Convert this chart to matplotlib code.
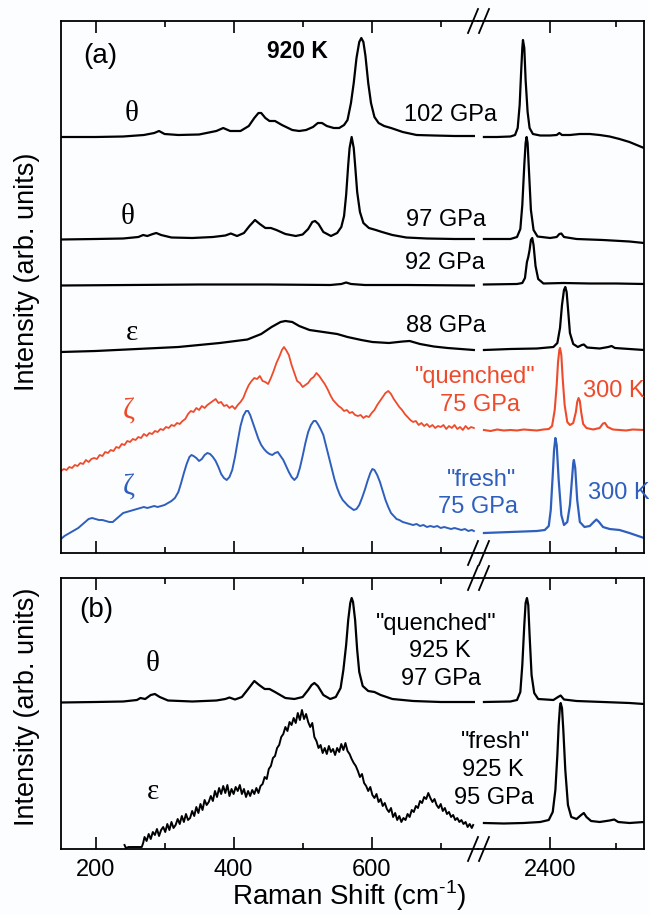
import matplotlib
matplotlib.use("Agg")
import matplotlib.pyplot as plt
from matplotlib.lines import Line2D

plt.rcParams['font.family'] = ['Liberation Sans', 'DejaVu Sans']
plt.rcParams['mathtext.fontset'] = 'custom'
plt.rcParams['mathtext.rm'] = 'Liberation Sans'

# ---------------- data (Raman shift in cm-1, intensity in arb. units, stacked) ----------------
# panel (a) -- theta, 102 GPa
th102_lo_x = [150, 200, 240, 270, 285, 292, 300, 320, 350, 375, 385, 395, 410, 422, 430, 436, 440, 446, 452, 460,
              470, 485, 495, 505, 515, 522, 528, 535, 545, 553, 560, 565, 570, 574, 578, 582, 585, 588, 591, 595,
              599, 604, 610, 618, 628, 645, 665, 690, 720, 748]
th102_lo_y = [416, 416, 416.5, 418, 420, 422, 419, 418, 418.5, 422, 425, 422, 422, 427, 435, 440, 440, 435, 432, 432,
              428, 423, 422, 423, 426, 430, 430, 427, 425, 425, 428, 433, 450, 470, 495, 511, 515, 511, 497, 470,
              450, 436, 430, 427, 425, 421, 418, 417.5, 417, 417]
th102_hi_x = [2300, 2320, 2340, 2347, 2351, 2354, 2356, 2358, 2359, 2361, 2363, 2366, 2369, 2374, 2385, 2400, 2410,
              2414, 2418, 2430, 2445, 2460, 2475, 2490, 2505, 2520, 2542]
th102_hi_y = [416, 416, 416.5, 418, 425, 448, 478, 505, 513, 505, 473, 441, 425, 419, 417.5, 417.5, 418,
              420, 418, 418, 419, 419, 418, 416.5, 414, 411, 405]

# panel (a) -- theta, 97 GPa
th97_lo_x = [150, 200, 240, 262, 269, 275, 283, 288, 295, 310, 340, 370, 388, 396, 405, 415, 423, 431, 438, 446,
             454, 462, 475, 490, 500, 508, 514, 518, 523, 530, 541, 550, 556, 560, 563, 566, 568, 571, 574, 576,
             579, 583, 588, 596, 606, 615, 630, 650, 680, 720, 748]
th97_lo_y = [313.5, 314, 314.5, 316, 318, 317, 319, 320, 318, 315.5, 315, 316, 317.5, 319.5, 317, 320, 327, 333, 329, 325,
             325, 323, 319, 317, 318.5, 324, 331, 332, 329, 321, 317, 320, 326, 337, 358, 388, 405, 416, 405, 388,
             361, 341, 330, 325, 323, 321, 318, 315.5, 314.5, 314, 314]
th97_hi_x = [2300, 2340, 2350, 2355, 2358, 2361, 2363, 2364.5, 2366, 2368, 2371, 2375, 2381, 2400, 2410, 2414, 2417,
             2421, 2440, 2480, 2520, 2542]
th97_hi_y = [314, 314, 316, 324, 348, 388, 410, 416, 410, 383, 343, 323, 316.5, 315, 316, 319, 319.5,
             316, 314, 313, 311.5, 310]

# panel (a) -- 92 GPa
p92_lo_x = [150, 250, 350, 450, 540, 556, 563, 570, 590, 650, 748]
p92_lo_y = [267.5, 268, 268.5, 268.5, 268, 269, 270.5, 269, 268, 268, 267.5]
p92_hi_x = [2300, 2350, 2358, 2362, 2365, 2367, 2369, 2371, 2373, 2375, 2378, 2382, 2390, 2420, 2460, 2500, 2542]
p92_hi_y = [268.5, 269, 270, 275, 291, 296, 303, 313, 315, 308, 287, 274, 269.5, 270, 269.5, 269.5, 269]

# panel (a) -- epsilon, 88 GPa
eps88_lo_x = [150, 200, 260, 320, 380, 420, 440, 455, 468, 475, 485, 495, 510, 530, 550, 565, 585, 601, 625, 645,
              655, 670, 690, 710, 748]
eps88_lo_y = [201, 202, 204, 206, 210, 213.5, 219, 226, 231, 232, 231, 227, 223, 221, 219, 216, 213, 211, 210, 211.5,
              212, 209, 206.5, 205, 203]
eps88_hi_x = [2300, 2340, 2380, 2405, 2411, 2415, 2418, 2421, 2423, 2425, 2427, 2430, 2435, 2442, 2448, 2451, 2456,
              2475, 2488, 2493, 2498, 2520, 2542]
eps88_hi_y = [203, 204, 204.5, 206, 210, 225, 248, 263, 266, 261, 245, 220, 209, 206, 208, 208.5, 205.5,
              204.5, 206, 207, 205, 204, 203]

# panel (a) -- zeta "quenched", 75 GPa, 300 K
zq_lo_x = [150, 154, 158, 162, 166, 170, 174, 178, 182, 186, 190, 194, 198, 202, 206, 210, 214, 218, 222, 226,
           230, 234, 238, 242, 246, 250, 254, 258, 262, 266, 270, 274, 278, 282, 286, 290, 294, 298, 302, 306,
           310, 314, 318, 322, 326, 330, 334, 338, 342, 346, 350, 354, 358, 362, 366, 370, 374, 378, 382, 386,
           390, 394, 398, 402, 406, 410, 414, 418, 422, 426, 430, 434, 438, 442, 446, 450, 454, 458, 462, 466,
           470, 473, 476, 480, 484, 488, 492, 496, 500, 504, 508, 512, 516, 520, 524, 528, 532, 536, 540, 544,
           548, 552, 556, 560, 564, 568, 572, 576, 580, 584, 588, 592, 596, 600, 604, 608, 612, 616, 620, 624,
           628, 632, 636, 640, 644, 648, 652, 656, 660, 664, 668, 672, 676, 680, 684, 688, 692, 696, 700, 704,
           708, 712, 716, 720, 724, 728, 732, 736, 740, 744, 748]
zq_lo_y = [82, 84, 83, 86, 85, 88, 87, 90, 89, 93, 91, 94, 95, 94, 98, 97, 101, 100, 103, 102,
           106, 105, 109, 108, 112, 111, 114, 113, 116, 115, 119, 117, 120, 119, 122, 121, 124, 123, 126, 125,
           128, 127, 130, 129, 132, 134, 139, 142, 141, 145, 143, 147, 145, 148, 150, 152, 154, 150, 151, 147,
           148, 145, 147, 144, 148, 151, 155, 162, 168, 172, 175, 174, 177, 172, 171, 169, 175, 182, 190, 196,
           203, 206, 203, 198, 188, 180, 172, 170, 166, 168, 170, 174, 176, 180, 177, 173, 169, 164, 158, 153,
           150, 147, 145, 142, 143, 140, 141, 138, 137, 138, 135, 137, 136, 140, 143, 148, 152, 156, 160, 162,
           159, 154, 150, 146, 143, 139, 136, 133, 131, 132, 128, 130, 127, 129, 126, 128, 125, 127, 126, 128,
           124, 127, 125, 128, 124, 126, 123, 127, 124, 126, 125]
zq_hi_x = [2300, 2310, 2320, 2330, 2340, 2350, 2360, 2370, 2380, 2390, 2398, 2403, 2407, 2410, 2412, 2414, 2415,
           2417, 2419, 2422, 2426, 2430, 2435, 2439, 2441, 2443, 2445, 2447, 2450, 2455, 2465, 2475, 2480, 2483,
           2487, 2495, 2505, 2515, 2525, 2542]
zq_hi_y = [123, 122, 123.5, 122.5, 123, 122.5, 123.5, 123, 122.5, 123.5, 124, 127, 143, 168, 191, 203, 205,
           198, 175, 148, 131, 128, 130, 141, 151, 155, 152, 141, 129, 125, 123.5, 125, 129.5, 130,
           126, 123.5, 123, 122.5, 123.5, 123]

# panel (a) -- zeta "fresh", 75 GPa, 300 K
zf_lo_x = [150, 155, 160, 165, 170, 175, 180, 185, 190, 195, 200, 205, 210, 215, 220, 225, 230, 235, 240, 245,
           250, 255, 260, 265, 270, 275, 280, 285, 290, 295, 300, 305, 310, 315, 320, 324, 328, 332, 336, 339,
           342, 346, 350, 354, 358, 362, 366, 370, 374, 378, 382, 386, 390, 394, 398, 402, 406, 410, 414, 418,
           421, 424, 428, 432, 436, 440, 444, 448, 452, 456, 460, 464, 468, 472, 476, 480, 484, 488, 492, 496,
           500, 504, 508, 512, 516, 519, 522, 526, 530, 534, 538, 542, 546, 550, 554, 558, 562, 566, 570, 574,
           578, 582, 586, 590, 594, 598, 601, 604, 608, 612, 616, 620, 624, 628, 632, 636, 640, 645, 650, 655,
           660, 665, 670, 675, 680, 685, 690, 695, 700, 705, 710, 715, 720, 725, 730, 735, 740, 745, 748]
zf_lo_y = [14, 17, 19, 21, 23, 25, 28, 31, 34, 35, 34, 33, 33, 32, 31, 31, 34, 37, 40, 41,
           42, 43, 44, 45, 46, 45, 46, 47, 46, 47, 48, 50, 52, 55, 61, 70, 80, 89, 96, 98,
           97, 95, 92, 94, 98, 100, 99, 96, 92, 86, 79, 75, 73, 76, 83, 96, 112, 127, 137, 142,
           142, 138, 130, 122, 114, 108, 104, 101, 99, 98, 100, 101, 97, 93, 87, 81, 76, 73, 76, 85,
           97, 110, 121, 128, 132, 132, 129, 124, 118, 107, 96, 85, 74, 65, 58, 53, 50, 47, 45, 43,
           44, 48, 55, 63, 72, 80, 84, 83, 78, 71, 62, 53, 46, 40, 37, 34, 33, 31, 30, 29,
           28, 29, 27, 28, 26, 27, 26, 27, 25, 26, 25, 24, 25, 24, 23, 24, 22, 23, 22]
zf_hi_x = [2300, 2320, 2340, 2360, 2380, 2392, 2398, 2401, 2404, 2406, 2408, 2410, 2413, 2417, 2421, 2426, 2430,
           2433, 2435, 2436, 2438, 2441, 2445, 2452, 2460, 2466, 2470, 2474, 2480, 2490, 2505, 2520, 2542]
zf_hi_y = [20, 20.5, 21, 21.5, 22, 23, 27, 43, 78, 103, 115, 108, 73, 38, 28, 31, 48,
           73, 90, 93, 85, 53, 31, 26, 27, 31, 33.5, 31, 26, 24, 23, 20, 15]

# panel (b) -- theta "quenched", 925 K, 97 GPa
thq_lo_x = [150, 200, 240, 260, 265, 272, 280, 286, 293, 305, 340, 375, 388, 394, 402, 412, 420, 430, 437, 445,
            452, 460, 475, 488, 500, 508, 513, 517, 522, 530, 540, 548, 555, 559, 563, 566, 569, 571, 573, 576,
            579, 582, 587, 595, 604, 613, 630, 660, 700, 748]
thq_lo_y = [146.5, 147, 147.5, 149, 151, 150, 154, 155, 152, 148.5, 147.5, 148.5, 150, 151.5, 149.5, 152, 159, 168, 164, 160,
            160, 157, 151, 150, 152, 159, 164, 166, 163, 154, 150, 152, 161, 179, 204, 229, 246, 251, 247, 229,
            199, 177, 163, 158, 157, 154, 150, 148, 147, 147]
thq_hi_x = [2300, 2340, 2350, 2355, 2358, 2361, 2363, 2365, 2367, 2369, 2372, 2376, 2382, 2405, 2412, 2416, 2421,
            2440, 2480, 2520, 2542]
thq_hi_y = [147, 147.5, 149, 157, 184, 224, 246, 251, 244, 214, 174, 156, 150, 149, 152, 153.5, 149.5,
            148, 147, 146, 145]

# panel (b) -- epsilon "fresh", 925 K, 95 GPa (noisy trace)
epf_lo_x = [242, 244, 248, 252, 256, 260, 264, 267, 269, 271, 274, 277, 280, 283, 286, 289, 292, 295, 298, 301,
            304, 307, 310, 313, 316, 319, 322, 325, 328, 331, 334, 337, 340, 343, 346, 349, 352, 355, 358, 361,
            364, 367, 370, 373, 376, 379, 382, 385, 388, 391, 394, 397, 400, 403, 406, 409, 412, 415, 418, 421,
            424, 427, 430, 433, 436, 439, 442, 445, 448, 451, 454, 457, 460, 463, 466, 469, 472, 475, 478, 481,
            484, 487, 490, 493, 496, 499, 502, 505, 508, 511, 514, 517, 520, 523, 526, 529, 532, 535, 538, 541,
            544, 547, 550, 553, 556, 559, 562, 565, 568, 571, 574, 577, 580, 583, 586, 589, 592, 595, 598, 601,
            604, 607, 610, 613, 616, 619, 622, 625, 628, 631, 634, 637, 640, 643, 646, 649, 652, 655, 658, 661,
            664, 667, 670, 673, 676, 679, 682, 685, 688, 691, 694, 697, 700, 703, 706, 709, 712, 715, 718, 721,
            724, 727, 730, 733, 736, 739, 742, 745, 747]
epf_lo_y = [4, 1, 2, 2, 2, 2, 2, 2, 6, 12, 8, 15, 10, 17, 14, 20, 13, 19, 22, 17,
            25, 19, 27, 21, 24, 30, 25, 33, 27, 35, 29, 31, 38, 33, 42, 36, 45, 39, 49, 44,
            47, 53, 48, 58, 52, 61, 55, 63, 56, 64, 53, 60, 55, 62, 58, 64, 55, 60, 52, 58,
            53, 59, 55, 61, 56, 63, 65, 72, 70, 80, 83, 91, 93, 101, 104, 112, 115, 122, 118, 127,
            124, 131, 126, 136, 129, 139, 130, 135, 127, 122, 126, 112, 108, 101, 104, 96, 101, 95, 103, 97,
            100, 94, 101, 97, 105, 99, 106, 98, 95, 90, 86, 83, 78, 72, 75, 66, 63, 58, 62, 54,
            51, 55, 47, 50, 43, 46, 40, 37, 41, 32, 36, 29, 33, 27, 31, 29, 35, 32, 39, 37,
            43, 41, 48, 46, 52, 50, 56, 51, 47, 50, 44, 41, 45, 38, 41, 35, 37, 32, 34, 29,
            31, 27, 29, 25, 27, 22, 25, 21, 24]
epf_hi_x = [2300, 2330, 2360, 2385, 2398, 2404, 2408, 2411, 2413, 2415, 2416, 2418, 2420, 2423, 2427, 2432, 2440,
            2447, 2451, 2455, 2462, 2475, 2490, 2497, 2503, 2520, 2542]
epf_hi_y = [26, 25.5, 26, 27, 29, 37, 59, 94, 124, 143, 146, 141, 119, 79, 44, 32, 30,
            34, 36, 32, 28, 27, 28.5, 29.5, 27, 26, 27]

RED = '#ee4b2b'
BLUE = '#2f5fbd'

# ---------------- layout (pixels of the 649 x 915 figure) ----------------
W, H = 649, 915
fig = plt.figure(figsize=(W / 100, H / 100), dpi=100)
fig.patch.set_facecolor('#fcfdff')

LEFT, BRK, RIGHT = 61, 478, 644


def box(x0, x1, y0, y1):
    return [x0 / W, 1 - y1 / H, (x1 - x0) / W, (y1 - y0) / H]


def fx(x):
    return x / W


def fy(y):
    return 1 - y / H


def panel(y0, y1, ymax, labels):
    axl = fig.add_axes(box(LEFT, BRK, y0, y1))
    axr = fig.add_axes(box(BRK, RIGHT, y0, y1))
    axl.set_xlim(150, 754)
    axr.set_xlim(2291, 2542)
    for ax in (axl, axr):
        ax.set_ylim(0, ymax)
        ax.set_yticks([])
        ax.set_facecolor('none')
        for s in ax.spines.values():
            s.set_linewidth(1.3)
        ax.tick_params(axis='x', which='both', direction='in', top=True, bottom=True,
                       width=1.2, labelsize=17, labelbottom=labels, pad=7)
        ax.tick_params(axis='x', which='major', length=8.5)
        ax.tick_params(axis='x', which='minor', length=4.5)
    axl.spines['right'].set_visible(False)
    axr.spines['left'].set_visible(False)
    axl.set_xticks([200, 400, 600])
    axl.set_xticks([300, 500, 700], minor=True)
    axr.set_xticks([2400])
    axr.set_xticks([2500], minor=True)
    # break marks
    for yy in (y0, y1):
        for xc in (473, 484):
            fig.add_artist(Line2D([fx(xc - 5), fx(xc + 5)], [fy(yy + 12), fy(yy - 12)],
                                  color='black', lw=1.3))
    return axl, axr


a_lo, a_hi = panel(21, 553, 532, False)
b_lo, b_hi = panel(578, 849, 271, True)

LW = 1.6
a_lo.plot(th102_lo_x, th102_lo_y, color='black', lw=LW)
a_hi.plot(th102_hi_x, th102_hi_y, color='black', lw=LW)
a_lo.plot(th97_lo_x, th97_lo_y, color='black', lw=LW)
a_hi.plot(th97_hi_x, th97_hi_y, color='black', lw=LW)
a_lo.plot(p92_lo_x, p92_lo_y, color='black', lw=LW)
a_hi.plot(p92_hi_x, p92_hi_y, color='black', lw=LW)
a_lo.plot(eps88_lo_x, eps88_lo_y, color='black', lw=LW)
a_hi.plot(eps88_hi_x, eps88_hi_y, color='black', lw=LW)
a_lo.plot(zq_lo_x, zq_lo_y, color=RED, lw=1.3)
a_hi.plot(zq_hi_x, zq_hi_y, color=RED, lw=1.5)
a_lo.plot(zf_lo_x, zf_lo_y, color=BLUE, lw=1.4)
a_hi.plot(zf_hi_x, zf_hi_y, color=BLUE, lw=1.6)

b_lo.plot(thq_lo_x, thq_lo_y, color='black', lw=LW)
b_hi.plot(thq_hi_x, thq_hi_y, color='black', lw=LW)
b_lo.plot(epf_lo_x, epf_lo_y, color='black', lw=1.4)
b_hi.plot(epf_hi_x, epf_hi_y, color='black', lw=LW)

# ---------------- text ----------------
SERIF = ['Liberation Serif', 'DejaVu Serif']


def txt(x, y, s, size=17, color='black', **kw):
    fig.text(fx(x), fy(y), s, fontsize=size, color=color, ha=kw.pop('ha', 'center'),
             va='center', **kw)


txt(100, 56, '(a)', size=20)
txt(297, 52, '920 K', size=16.5, weight='bold')
txt(132, 114, '\u03b8', size=21, family=SERIF)
txt(450, 115, '102 GPa')
txt(128, 217, '\u03b8', size=21, family=SERIF)
txt(446, 220, '97 GPa')
txt(445, 263, '92 GPa')
txt(132, 333, '\u03b5', size=21, family=SERIF)
txt(446, 326, '88 GPa')
txt(129, 412, '\u03b6', size=21, color=RED, family=SERIF)
txt(475, 377, '"quenched"', color=RED)
txt(480, 405, '75 GPa', color=RED)
txt(583, 391, '300 K', color=RED, ha='left')
txt(129, 488, '\u03b6', size=21, color=BLUE, family=SERIF)
txt(481, 480, '"fresh"', color=BLUE)
txt(478, 507, '75 GPa', color=BLUE)
txt(588, 493, '300 K', color=BLUE, ha='left')

txt(96, 610, '(b)', size=20)
txt(153, 664, '\u03b8', size=21, family=SERIF)
txt(436, 624, '"quenched"')
txt(440, 651, '925 K')
txt(441, 679, '97 GPa')
txt(153, 792, '\u03b5', size=21, family=SERIF)
txt(495, 742, '"fresh"')
txt(493, 770, '925 K')
txt(494, 798, '95 GPa')

txt(27, 272, 'Intensity (arb. units)', size=19.5, rotation=90)
txt(27, 707, 'Intensity (arb. units)', size=19.5, rotation=90)
txt(349, 896, 'Raman Shift (cm$^{\\text{-1}}$)', size=20)

fig.savefig('out.png', dpi=100, facecolor=fig.get_facecolor())
